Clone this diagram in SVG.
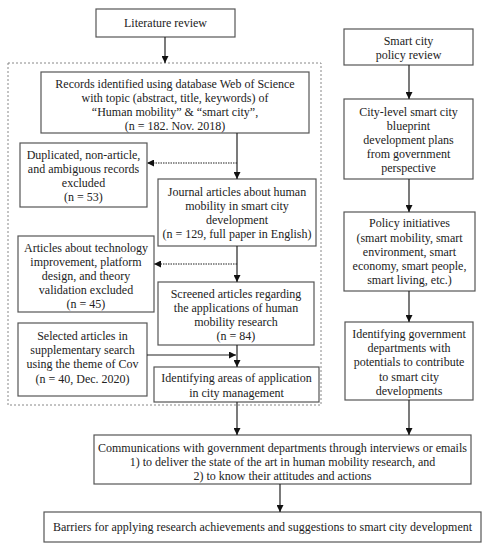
<svg xmlns="http://www.w3.org/2000/svg" width="488" height="550" viewBox="0 0 488 550">
<defs>
<style>
rect.b{fill:#fff;stroke:#555;stroke-width:1.2}
text{font-family:"Liberation Serif","Times New Roman",serif;font-size:12px;fill:#222;text-anchor:middle}
.c{stroke:#222;stroke-width:1.2;fill:none}
.d{stroke:#222;stroke-width:1.2;fill:none;stroke-dasharray:1.5 1}
</style>
<marker id="ah" viewBox="0 0 10 10" refX="10" refY="5" markerWidth="7" markerHeight="7" markerUnits="userSpaceOnUse" orient="auto"><path d="M0,0L10,5L0,10z" fill="#111"/></marker>
</defs>
<rect x="0" y="0" width="488" height="550" fill="#fff"/>
<rect id="dashedframe" x="8" y="63" width="313" height="342" fill="none" stroke="#888" stroke-width="1" stroke-dasharray="2 2"/>
<g id="lit"><rect class="b" x="96" y="9" width="139" height="28"/><text x="165.5" y="27">Literature review</text></g>
<g id="records"><rect class="b" x="41" y="72" width="268" height="61"/>
<text x="175" y="88">Records identified using database Web of Science</text>
<text x="175" y="102">with topic (abstract, title, keywords) of</text>
<text x="175" y="116">“Human mobility” &amp; “smart city”,</text>
<text x="175" y="130">(n = 182. Nov. 2018)</text></g>
<g id="dup"><rect class="b" x="20" y="143" width="127" height="64"/>
<text x="83.5" y="159">Duplicated, non-article,</text>
<text x="83.5" y="173">and ambiguous records</text>
<text x="83.5" y="187">excluded</text>
<text x="83.5" y="201">(n = 53)</text></g>
<g id="journal"><rect class="b" x="158" y="179" width="158" height="67"/>
<text x="237" y="196">Journal articles about human</text>
<text x="237" y="210">mobility in smart city</text>
<text x="237" y="224">development</text>
<text x="237" y="238">(n = 129, full paper in English)</text></g>
<g id="tech"><rect class="b" x="18" y="236" width="136" height="76"/>
<text x="86" y="252">Articles about technology</text>
<text x="86" y="266">improvement, platform</text>
<text x="86" y="280">design, and theory</text>
<text x="86" y="294">validation excluded</text>
<text x="86" y="308">(n = 45)</text></g>
<g id="screened"><rect class="b" x="158" y="282" width="156" height="63"/>
<text x="236" y="298">Screened articles regarding</text>
<text x="236" y="312">the applications of human</text>
<text x="236" y="326">mobility research</text>
<text x="236" y="340">(n = 84)</text></g>
<g id="selected"><rect class="b" x="18" y="323" width="129" height="73"/>
<text x="82.5" y="340">Selected articles in</text>
<text x="82.5" y="354">supplementary search</text>
<text x="82.5" y="368">using the theme of Cov</text>
<text x="82.5" y="383">(n = 40, Dec. 2020)</text></g>
<g id="areas"><rect class="b" x="154" y="367" width="165" height="35"/>
<text x="236.5" y="382">Identifying areas of application</text>
<text x="236.5" y="397">in city management</text></g>
<g id="scp"><rect class="b" x="344" y="29" width="129" height="36"/>
<text x="408.5" y="45">Smart city</text>
<text x="408.5" y="59">policy review</text></g>
<g id="citylevel"><rect class="b" x="344" y="99" width="129" height="80"/>
<text x="408.5" y="116">City-level smart city</text>
<text x="408.5" y="130">blueprint</text>
<text x="408.5" y="144">development plans</text>
<text x="408.5" y="158">from government</text>
<text x="408.5" y="172">perspective</text></g>
<g id="policy"><rect class="b" x="344" y="212" width="131" height="79"/>
<text x="409.5" y="227">Policy initiatives</text>
<text x="409.5" y="242">(smart mobility, smart</text>
<text x="409.5" y="256">environment, smart</text>
<text x="409.5" y="270">economy, smart people,</text>
<text x="409.5" y="284">smart living, etc.)</text></g>
<g id="identgov"><rect class="b" x="345" y="322" width="128" height="78"/>
<text x="409" y="338">Identifying government</text>
<text x="409" y="352">departments with</text>
<text x="409" y="366">potentials to contribute</text>
<text x="409" y="381">to smart city</text>
<text x="409" y="395">developments</text></g>
<g id="comm"><rect class="b" x="94" y="435" width="377" height="49"/>
<text x="282.5" y="452">Communications with government departments through interviews or emails</text>
<text x="282.5" y="466">1) to deliver the state of the art in human mobility research, and</text>
<text x="282.5" y="480">2) to know their attitudes and actions</text></g>
<g id="barriers"><rect class="b" x="44" y="512" width="437" height="30"/>
<text x="262.5" y="531">Barriers for applying research achievements and suggestions to smart city development</text></g>
<g id="connectors">
<line class="c" x1="165" y1="37" x2="165" y2="63" marker-end="url(#ah)"/>
<line class="c" x1="237" y1="133" x2="237" y2="179" marker-end="url(#ah)"/>
<line class="d" x1="237" y1="163" x2="147" y2="163" marker-end="url(#ah)"/>
<line class="c" x1="237" y1="246" x2="237" y2="282" marker-end="url(#ah)"/>
<line class="d" x1="237" y1="264" x2="154" y2="264" marker-end="url(#ah)"/>
<line class="c" x1="237" y1="345" x2="237" y2="367" marker-end="url(#ah)"/>
<line class="c" x1="147" y1="355" x2="236" y2="355" marker-end="url(#ah)"/>
<line class="c" x1="237" y1="402" x2="237" y2="435" marker-end="url(#ah)"/>
<line class="c" x1="409" y1="65" x2="409" y2="99" marker-end="url(#ah)"/>
<line class="c" x1="409" y1="179" x2="409" y2="212" marker-end="url(#ah)"/>
<line class="c" x1="409" y1="291" x2="409" y2="322" marker-end="url(#ah)"/>
<line class="c" x1="409" y1="400" x2="409" y2="435" marker-end="url(#ah)"/>
<line class="c" x1="280" y1="484" x2="280" y2="512" marker-end="url(#ah)"/>
</g>
</svg>
